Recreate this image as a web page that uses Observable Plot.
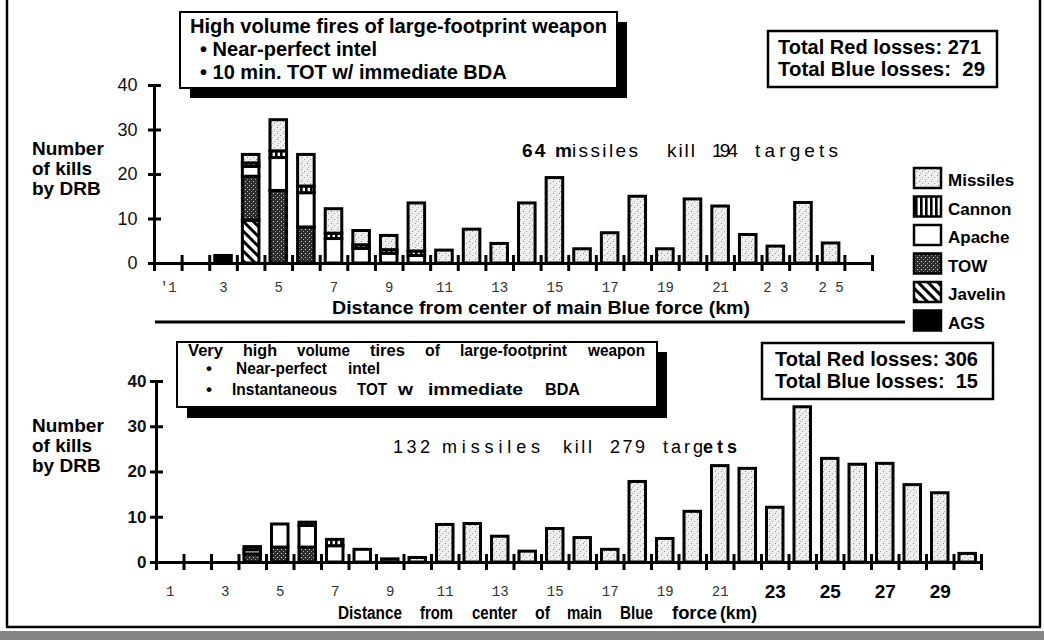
<!DOCTYPE html>
<html><head><meta charset="utf-8">
<script src="https://cdn.jsdelivr.net/npm/d3@7"></script>
<script src="https://cdn.jsdelivr.net/npm/@observablehq/plot@0.6"></script>
<style>
body{margin:0;background:#fff;}
#page{position:relative;width:1044px;height:640px;overflow:hidden;background:#fff;}
#page svg{position:absolute;left:0;}
#page text{white-space:pre;}
</style></head>
<body><div id="page"></div>
<script>
// ---------- DATA ----------
const weapons = ["AGS","Javelin","TOW","Apache","Cannon","Missiles"]; // stacking order, bottom to top
const legendNames = ["Missiles","Cannon","Apache","TOW","Javelin","AGS"];

const topKm       = [1,2,3,4,5,6,7,8,9,10,11,12,13,14,15,16,17,18,19,20,21,22,23,24,25];
const topAGS      = [0,0,1.7,0,0,0,0,0,0,0,0,0,0,0,0,0,0,0,0,0,0,0,0,0,0];
const topJavelin  = [0,0,0,9.6,0,0,0,0,0,0,0,0,0,0,0,0,0,0,0,0,0,0,0,0,0];
const topTOW      = [0,0,0,9.9,16.3,8.1,0,0,0,0,0,0,0,0,0,0,0,0,0,0,0,0,0,0,0];
const topApache   = [0,0,0,2.2,7.4,7.7,5.5,3.3,2.2,1.7,0,0,0,0,0,0,0,0,0,0,0,0,0,0,0];
const topCannon   = [0,0,0,0.8,1.5,1.5,1.2,0.8,0.8,1.0,0,0,0,0,0,0,0,0,0,0,0,0,0,0,0];
const topMissiles = [0,0,0,1.9,7.0,7.1,5.5,3.2,3.2,10.8,2.9,7.6,4.4,13.5,19.2,3.2,6.8,15.0,3.2,14.4,12.8,6.4,3.8,13.6,4.5];

const botKm       = [1,2,3,4,5,6,7,8,9,10,11,12,13,14,15,16,17,18,19,20,21,22,23,24,25,26,27,28,29,30];
const botAGS      = [0,0,0,0,0,0,0,0,0,0,0,0,0,0,0,0,0,0,0,0,0,0,0,0,0,0,0,0,0,0];
const botJavelin  = [0,0,0,0,0,0,0,0,0,0,0,0,0,0,0,0,0,0,0,0,0,0,0,0,0,0,0,0,0,0];
const botTOW      = [0,0,0,1.8,3.3,3.3,0,0,0,0,0,0,0,0,0,0,0,0,0,0,0,0,0,0,0,0,0,0,0,0];
const botApache   = [0,0,0,0.9,5.1,4.8,3.6,2.8,0.7,0,0,0,0,0,0,0,0,0,0,0,0,0,0,0,0,0,0,0,0,0];
const botCannon   = [0,0,0,0.7,0,0.7,1.4,0,0,0,0,0,0,0,0,0,0,0,0,0,0,0,0,0,0,0,0,0,0,0];
const botMissiles = [0,0,0,0,0,0,0,0,0,1.0,8.3,8.5,5.7,2.4,7.4,5.4,2.8,17.8,5.2,11.2,21.3,20.7,12.1,34.3,22.9,21.6,21.8,17.1,15.3,1.9];

const yTickValues   = [0,10,20,30,40];
const topXLabelKm   = [1,3,5,7,9,11,13,15,17,19,21,23,25];
const topXLabelText = ["'1","3","5","7","9","11","13","15","17","19","21","2 3","2 5"];
const botXLabelKm   = [1,3,5,7,9,11,13,15,17,19,21];
const botXLabelText = ["1","3","5","7","9","11","13","15","17","19","21"];
const botXBoldKm    = [23,25,27,29];
const botXBoldText  = ["23","25","27","29"];

// ---------- helpers ----------
function stackRows(kms, series) {
  const rows = [];
  kms.forEach((km, i) => {
    let acc = 0;
    for (const w of weapons) {
      const v = series[w][i];
      if (v > 0) { rows.push({km, weapon: w, y1: acc, y2: acc + v}); acc += v; }
    }
  });
  return rows;
}
const fillFor = w => w === "Apache" ? "#ffffff" : w === "AGS" ? "#000000" : `url(#pat-${w})`;

const topRows = stackRows(topKm, {AGS: topAGS, Javelin: topJavelin, TOW: topTOW, Apache: topApache, Cannon: topCannon, Missiles: topMissiles});
const botRows = stackRows(botKm, {AGS: botAGS, Javelin: botJavelin, TOW: botTOW, Apache: botApache, Cannon: botCannon, Missiles: botMissiles});

const SANS = "'Liberation Sans', Arial, Helvetica, sans-serif";
const MONO = "'Liberation Mono', 'Courier New', monospace";

function panel(rows, cfg) {
  const half = 0.3;
  const marks = weapons.map(w => Plot.rectY(rows.filter(r => r.weapon === w), {
    x1: d => d.km - half, x2: d => d.km + half, y1: "y1", y2: "y2",
    fill: fillFor(w), stroke: "#000", strokeWidth: 3
  }));
  marks.push(
    Plot.ruleY([0], {x1: cfg.x0, x2: cfg.x1, stroke: "#000", strokeWidth: 3}),
    Plot.ruleX([cfg.x0], {y1: 0, y2: 40, stroke: "#000", strokeWidth: 3}),
    Plot.ruleX(cfg.ticks, {x: d => d, y1: 0, y2: 0, insetTop: -8, insetBottom: -8, stroke: "#000", strokeWidth: 3}),
    Plot.ruleY(yTickValues, {y: d => d, x1: cfg.x0, x2: cfg.x0, insetLeft: -6, insetRight: -7, stroke: "#000", strokeWidth: 3}),
    Plot.text(yTickValues, {x: cfg.x0, y: d => d, text: d => String(d), textAnchor: "end", dx: cfg.ylabDx,
      fontSize: cfg.ylabSize, fontWeight: cfg.ylabWeight, fill: "#111", fontFamily: SANS}),
    Plot.text(cfg.xlabKm, {x: d => d, y: 0, text: (d, i) => cfg.xlabText[i], dy: cfg.xlabDy,
      fontSize: 14, fill: "#333", fontFamily: MONO})
  );
  if (cfg.xboldKm) marks.push(
    Plot.text(cfg.xboldKm, {x: d => d, y: 0, text: (d, i) => cfg.xboldText[i], dy: cfg.xlabDy,
      fontSize: 19, fontWeight: "bold", fill: "#000", fontFamily: SANS})
  );
  return Plot.plot({
    width: 1044, height: cfg.height,
    marginLeft: cfg.ml, marginRight: cfg.mr, marginTop: cfg.mt, marginBottom: cfg.mb,
    x: {type: "linear", domain: [cfg.x0, cfg.x1], axis: null},
    y: {domain: [0, 40], axis: null},
    style: {background: "transparent", overflow: "visible"},
    marks
  });
}

const page = document.getElementById("page");
const topSvg = panel(topRows, {
  height: 320, ml: 154, mr: 172, mt: 85, mb: 57, x0: 0.5, x1: 26.5,
  ticks: d3.range(0.5, 27, 1), ylabDx: -17, ylabSize: 18, ylabWeight: "normal",
  xlabKm: topXLabelKm, xlabText: topXLabelText, xlabDy: 24
});
topSvg.style.top = "0px";
page.appendChild(topSvg);

const botSvg = panel(botRows, {
  height: 320, ml: 156, mr: 63, mt: 61, mb: 78, x0: 0.5, x1: 30.5,
  ticks: d3.range(0.5, 31, 1), ylabDx: -10, ylabSize: 17, ylabWeight: "bold",
  xlabKm: botXLabelKm, xlabText: botXLabelText, xlabDy: 29,
  xboldKm: botXBoldKm, xboldText: botXBoldText
});
botSvg.style.top = "320px";
page.appendChild(botSvg);

// ---------- overlay: frame, boxes, annotations, legend ----------
const NS = "http://www.w3.org/2000/svg";
const ov = document.createElementNS(NS, "svg");
ov.setAttribute("width", 1044); ov.setAttribute("height", 640);
ov.style.top = "0px"; ov.style.pointerEvents = "none";
page.appendChild(ov);
function el(parent, tag, attrs, text) {
  const e = document.createElementNS(NS, tag);
  for (const k in attrs) e.setAttribute(k, attrs[k]);
  if (text != null) e.textContent = text;
  parent.appendChild(e);
  return e;
}
function txt(x, y, s, o = {}) {
  const a = {x, y, "font-family": o.family || SANS, "font-size": o.size || 16,
    "font-weight": o.weight || "normal", fill: o.fill || "#000"};
  if (o.len) { a.textLength = o.len; a.lengthAdjust = o.adjust || "spacingAndGlyphs"; }
  if (o.anchor) a["text-anchor"] = o.anchor;
  const t = el(ov, "text", a, s);
  t.setAttributeNS("http://www.w3.org/XML/1998/namespace", "xml:space", "preserve");
  return t;
}

// patterns
const defs = el(ov, "defs", {});
let p = el(defs, "pattern", {id: "pat-Missiles", width: 6, height: 6, patternUnits: "userSpaceOnUse"});
el(p, "rect", {width: 6, height: 6, fill: "#eeeeee"});
el(p, "rect", {x: 1, y: 1, width: 1, height: 1, fill: "#8a8a8a"});
el(p, "rect", {x: 4, y: 3, width: 1, height: 1, fill: "#a0a0a0"});
el(p, "rect", {x: 2, y: 5, width: 1, height: 1, fill: "#b0b0b0"});
p = el(defs, "pattern", {id: "pat-Cannon", width: 5, height: 5, patternUnits: "userSpaceOnUse"});
el(p, "rect", {width: 5, height: 5, fill: "#fff"});
el(p, "rect", {x: 0, y: 0, width: 2.6, height: 5, fill: "#000"});
p = el(defs, "pattern", {id: "pat-TOW", width: 4, height: 4, patternUnits: "userSpaceOnUse"});
el(p, "rect", {width: 4, height: 4, fill: "#2e2e2e"});
el(p, "rect", {x: 1, y: 1, width: 1, height: 1, fill: "#d0d0d0"});
el(p, "rect", {x: 3, y: 3, width: 1, height: 1, fill: "#9a9a9a"});
p = el(defs, "pattern", {id: "pat-Javelin", width: 7, height: 7, patternUnits: "userSpaceOnUse", patternTransform: "rotate(-45)"});
el(p, "rect", {width: 7, height: 7, fill: "#fff"});
el(p, "rect", {x: 0, y: 0, width: 3, height: 7, fill: "#000"});

// page frame
el(ov, "line", {x1: 7, y1: 0, x2: 7, y2: 627, stroke: "#000", "stroke-width": 2.5});
el(ov, "line", {x1: 1040, y1: 0, x2: 1040, y2: 627, stroke: "#000", "stroke-width": 2.5});
el(ov, "line", {x1: 6, y1: 627, x2: 1041, y2: 627, stroke: "#000", "stroke-width": 2.5});
el(ov, "rect", {x: 0, y: 631, width: 1044, height: 9, fill: "#858585"});

// separator
el(ov, "line", {x1: 155, y1: 322, x2: 905, y2: 322, stroke: "#000", "stroke-width": 3});

// y axis titles
for (const base of [155, 432]) {
  ["Number", "of kills", "by DRB"].forEach((s, i) => txt(32, base + i * 20, s, {size: 19, weight: "bold"}));
}

// axis titles
txt(332, 314, "Distance from center of main Blue force (km)", {size: 18, weight: "bold", len: 418});
for (const [s, a, b] of [["Distance",338,402],["from",420,453],["center",472,517],["of",535,550],["main",567,602],["Blue",620,653],["force",672,717],["(km)",720,757]]) {
  txt(a, 619, s, {size: 18, weight: "bold", len: b - a});
}

// top-left box
el(ov, "rect", {x: 190, y: 22, width: 437, height: 76, fill: "#000"});
el(ov, "rect", {x: 180, y: 12, width: 437, height: 76, fill: "#fff", stroke: "#000", "stroke-width": 2});
txt(190, 33, "High volume fires of large-footprint weapon", {size: 20, weight: "bold", len: 417});
txt(200, 56, "• Near-perfect intel", {size: 20, weight: "bold"});
txt(200, 79, "• 10 min. TOT w/ immediate BDA", {size: 20, weight: "bold"});

// top-right box
el(ov, "rect", {x: 768, y: 31, width: 229, height: 56, fill: "#fff", stroke: "#000", "stroke-width": 2.5});
txt(778, 54, "Total Red losses: 271", {size: 20, weight: "bold"});
txt(778, 76, "Total Blue losses:  29", {size: 20, weight: "bold", len: 207});

// top annotation
for (const [s, a, b, w] of [["64 m",522,572,"bold"],["issiles",572,638,"normal"],["kill",667,695,"normal"],["194",712,738,"normal"],["targets",755,838,"normal"]]) {
  txt(a, 157, s, {size: 19, weight: w, len: b - a, adjust: "spacing"});
}

// bottom-left box
el(ov, "rect", {x: 187, y: 352, width: 480, height: 66, fill: "#000"});
el(ov, "rect", {x: 177, y: 342, width: 480, height: 65, fill: "#fff", stroke: "#000", "stroke-width": 2});
for (const [s, a, b] of [["Very",188,223],["high",243,277],["volume",297,350],["tires",370,405],["of",425,440],["large-footprint",460,567],["weapon",588,645]]) {
  txt(a, 356, s, {size: 17, weight: "bold", len: b - a});
}
for (const [s, a, b] of [["•",206,212],["Near-perfect",236,327],["intel",348,380]]) {
  txt(a, 374, s, {size: 17, weight: "bold", len: b - a});
}
for (const [s, a, b] of [["•",206,212],["Instantaneous",232,337],["TOT",357,387],["w",398,413],["immediate",428,523],["BDA",545,580]]) {
  txt(a, 395, s, {size: 17, weight: "bold", len: b - a});
}

// bottom-right box
el(ov, "rect", {x: 762, y: 343, width: 231, height: 56, fill: "#fff", stroke: "#000", "stroke-width": 2.5});
txt(775, 366, "Total Red losses: 306", {size: 20, weight: "bold", len: 203});
txt(775, 388, "Total Blue losses:  15", {size: 20, weight: "bold", len: 203});

// bottom annotation
for (const [s, a, b, w] of [["132",393,430,"normal"],["missiles",442,540,"normal"],["kill",563,592,"normal"],["279",610,645,"normal"],["targ",663,703,"normal"],["ets",703,737,"bold"]]) {
  txt(a, 453, s, {size: 18, weight: w, len: b - a, adjust: "spacing"});
}

// legend
legendNames.forEach((w, i) => {
  const base = 186 + i * 28.5;
  el(ov, "rect", {x: 914, y: base - 18, width: 27, height: 20, fill: fillFor(w), stroke: "#000", "stroke-width": 2.5});
  txt(948, base, w, {size: 17, weight: "bold"});
});
</script>
</body></html>
